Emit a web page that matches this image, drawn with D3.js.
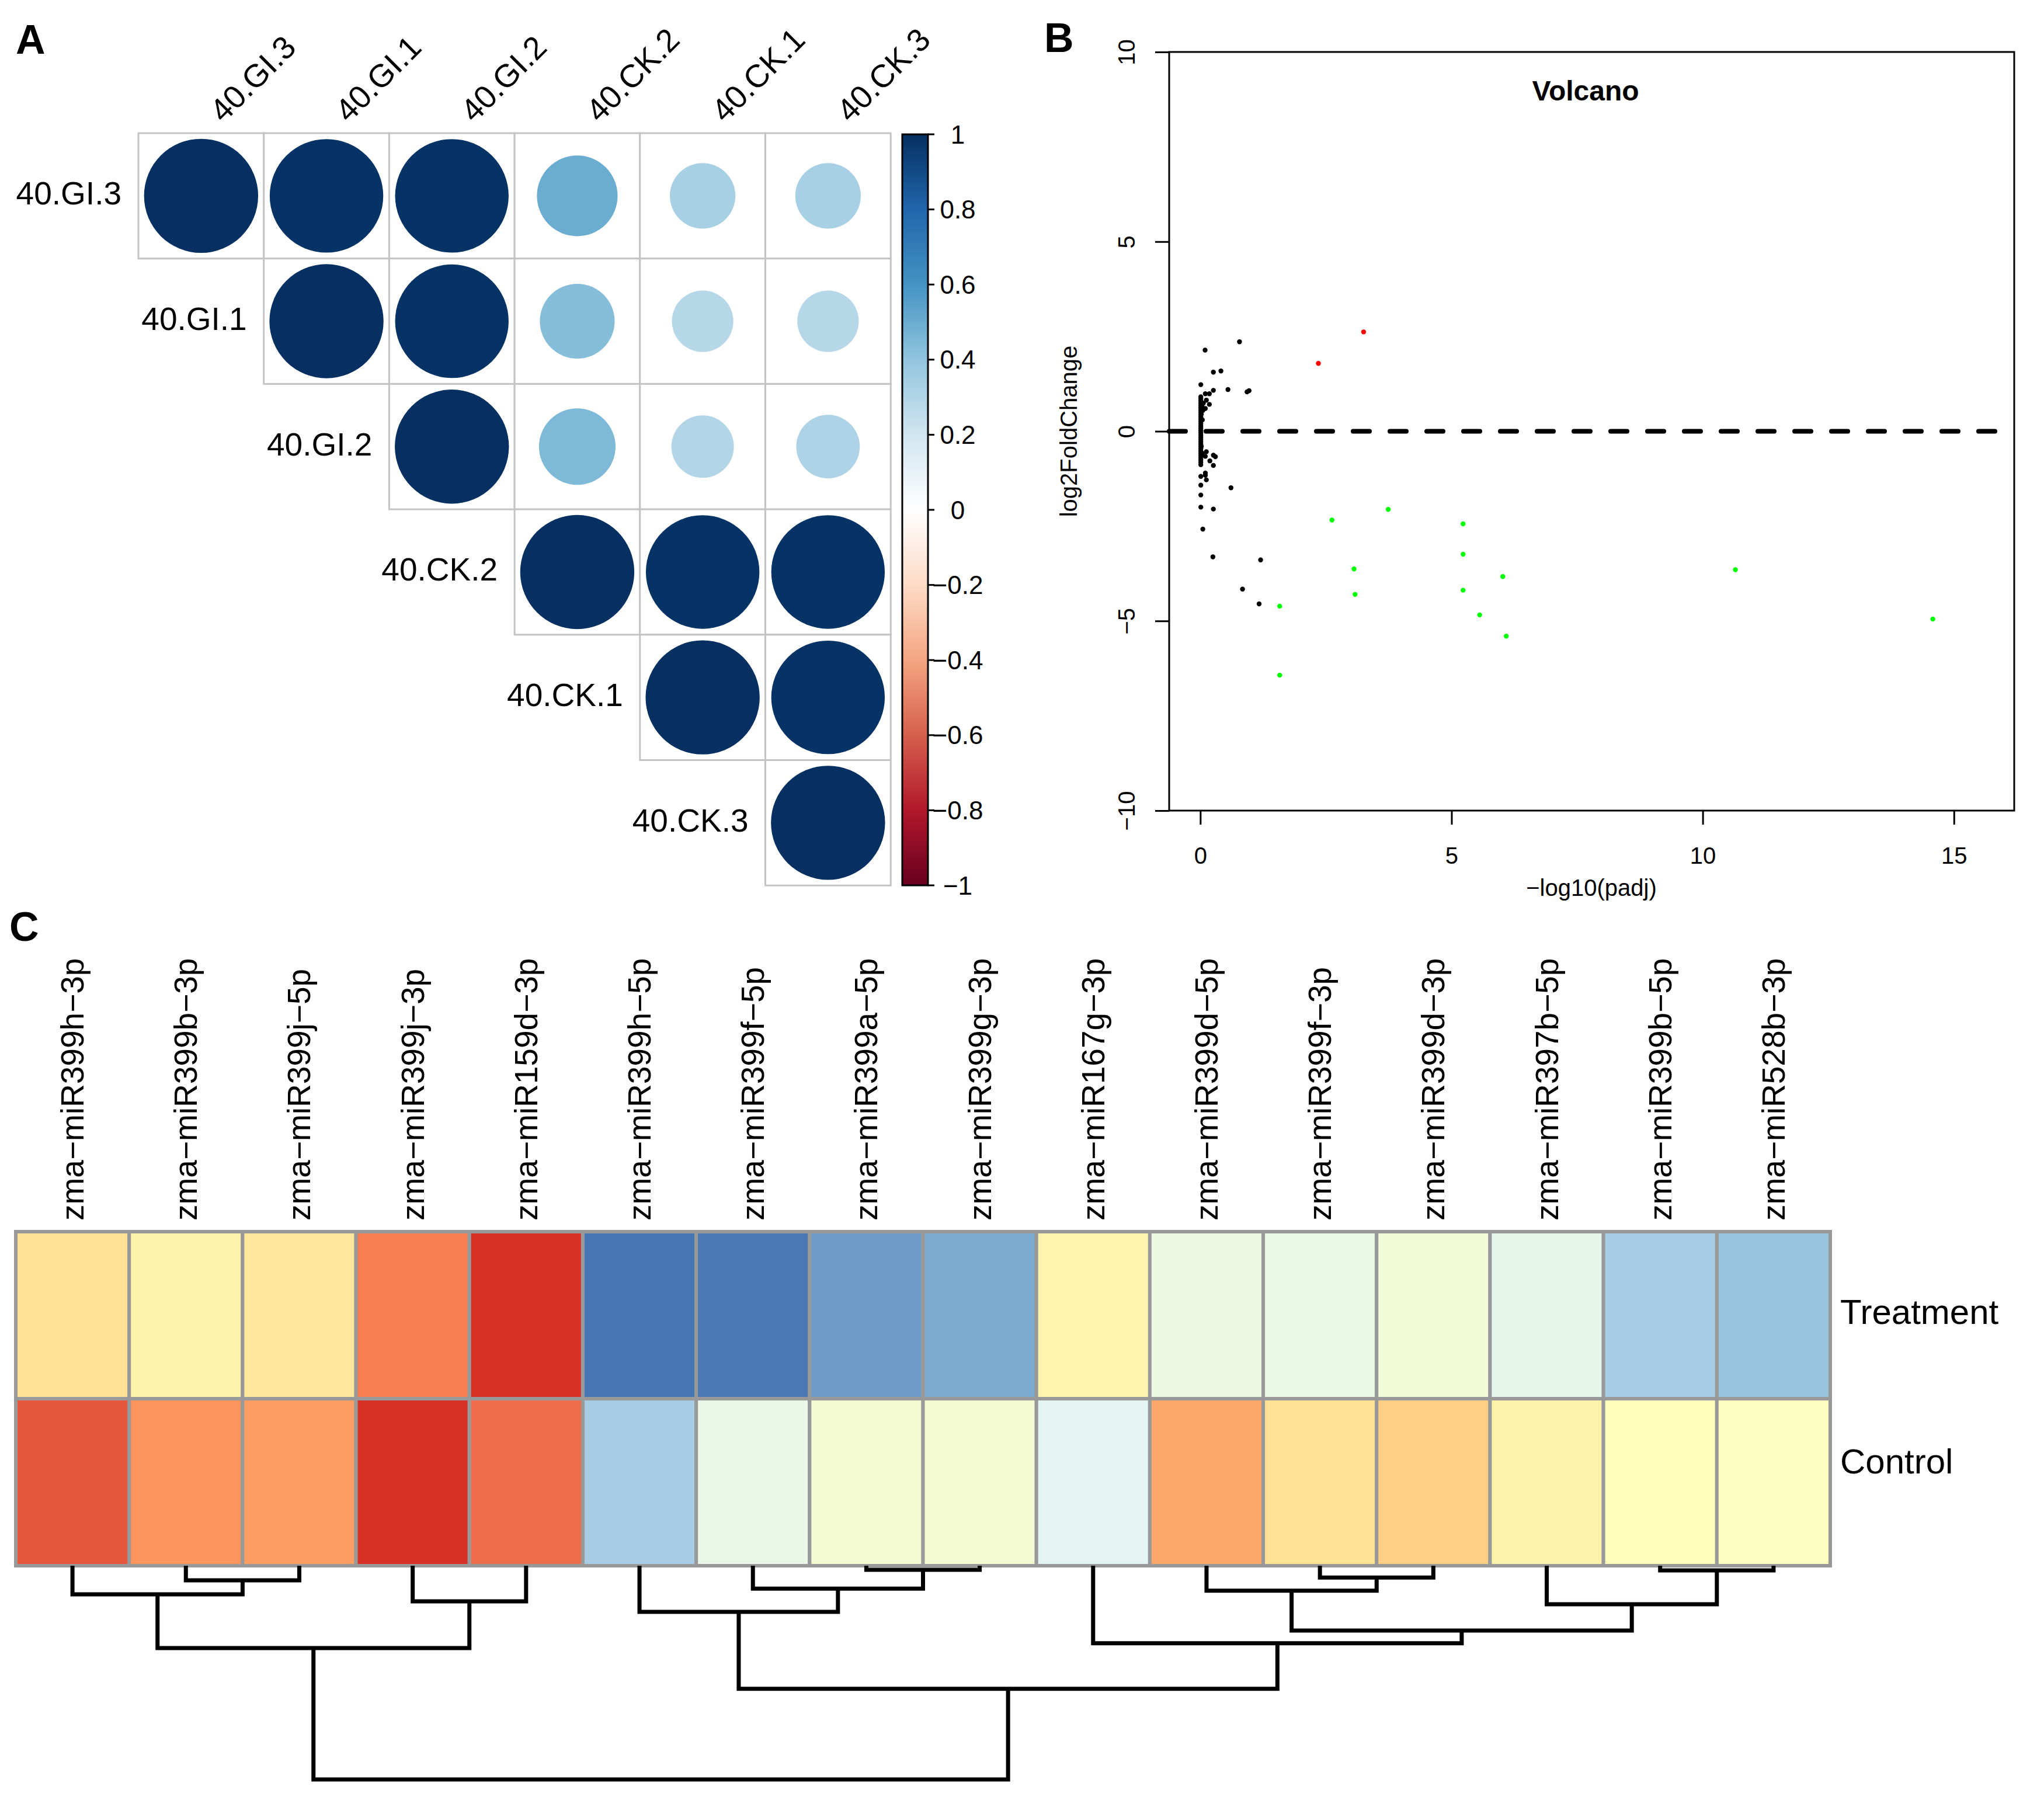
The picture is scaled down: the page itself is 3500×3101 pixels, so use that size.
<!DOCTYPE html>
<html>
<head>
<meta charset="utf-8">
<script src="https://cdn.jsdelivr.net/npm/d3@7"></script>
<style>
body { margin: 0; background: #fff; }
text { font-family: "Liberation Sans", Arial, Helvetica, sans-serif; fill: #000; }
</style>
</head>
<body>
<svg id="fig" width="3500" height="3101" viewBox="0 0 3500 3101"></svg>
<script>
// ---------- data ----------
// A: correlation matrix (only the upper triangle is drawn)
const samples = ["40.GI.3", "40.GI.1", "40.GI.2", "40.CK.2", "40.CK.1", "40.CK.3"];
const corrValues = [
  [1.00, 0.99, 0.99, 0.50, 0.33, 0.33],
  [0.99, 1.00, 0.99, 0.43, 0.29, 0.29],
  [0.99, 0.99, 1.00, 0.45, 0.30, 0.31],
  [0.50, 0.43, 0.45, 1.00, 0.99, 0.99],
  [0.33, 0.29, 0.30, 0.99, 1.00, 0.99],
  [0.33, 0.29, 0.31, 0.99, 0.99, 1.00]
];
const corrTicks = [1, 0.8, 0.6, 0.4, 0.2, 0, -0.2, -0.4, -0.6, -0.8, -1];

// B: volcano points [-log10(padj), log2FoldChange]
const upPoints = [[3.25, 2.62], [2.35, 1.79]];
const downPoints = [
  [3.74, -2.06], [2.62, -2.34], [5.23, -2.44], [5.23, -3.24], [3.06, -3.63],
  [6.02, -3.83], [5.23, -4.19], [3.08, -4.30], [1.58, -4.61], [5.56, -4.84],
  [6.09, -5.40], [1.58, -6.43], [10.65, -3.65], [14.58, -4.95]
];
const nsPoints = [
  [0.095, 2.14], [0.78, 2.36], [0.26, 1.56], [0.41, 1.59], [0.01, 1.23], [0.26, 1.08],
  [0.55, 1.10], [0.93, 1.04], [0.97, 1.07], [0.10, 0.99], [0.18, 0.99], [0.01, 0.91],
  [0.12, 0.82], [0.06, 0.74], [0.18, 0.71], [0.10, 0.60], [0.03, 0.66], [0.05, 0.55],
  [0.02, 0.45], [0.04, 0.30], [0.01, 0.86], [0.01, 0.80], [0.01, 0.74], [0.01, 0.68],
  [0.01, 0.62], [0.01, 0.56], [0.01, 0.50], [0.01, 0.44], [0.01, 0.38], [0.01, 0.32],
  [0.01, 0.26], [0.01, 0.20], [0.01, 0.14], [0.01, 0.08], [0.01, 0.02], [0.01, -0.04],
  [0.01, -0.10], [0.01, -0.16], [0.01, -0.22], [0.01, -0.28], [0.01, -0.34], [0.01, -0.40],
  [0.01, -0.46], [0.01, -0.52], [0.01, -0.58], [0.01, -0.64], [0.01, -0.70], [0.01, -0.76],
  [0.01, -0.82], [0.02, -0.40], [0.04, -0.58], [0.12, -0.54], [0.26, -0.63], [0.30, -0.67],
  [0.19, -0.78], [0.10, -0.66], [0.26, -0.90], [0.01, -0.88], [0.10, -1.10], [0.10, -1.16],
  [0.01, -1.19], [0.12, -1.28], [0.01, -1.42], [0.61, -1.49], [0.01, -1.68], [0.01, -2.00],
  [0.26, -2.05], [0.05, -2.58], [0.25, -3.31], [1.20, -3.39], [0.84, -4.16], [1.17, -4.55]
];
const xTicksB = [0, 5, 10, 15];
const yTicksB = [-10, -5, 0, 5, 10];

// C: heatmap (scaled expression) and column dendrogram
const mirnas = [
  "zma−miR399h−3p", "zma−miR399b−3p", "zma−miR399j−5p", "zma−miR399j−3p",
  "zma−miR159d−3p", "zma−miR399h−5p", "zma−miR399f−5p", "zma−miR399a−5p",
  "zma−miR399g−3p", "zma−miR167g−3p", "zma−miR399d−5p", "zma−miR399f−3p",
  "zma−miR399d−3p", "zma−miR397b−5p", "zma−miR399b−5p", "zma−miR528b−3p"
];
const groups = ["Treatment", "Control"];
const treatment = [0.32, 0.14, 0.26, 0.72, 1.00, -1.00, -0.98, -0.82, -0.76, 0.12, -0.20, -0.22, -0.14, -0.26, -0.58, -0.64];
const control = [0.86, 0.64, 0.60, 1.00, 0.78, -0.58, -0.24, -0.12, -0.12, -0.30, 0.56, 0.30, 0.40, 0.14, 0.02, -0.02];
// hclust style merges: negative = leaf (1-based), positive = earlier merge
const merges = [
  [-8, -9, 0.019], [-15, -16, 0.022], [-12, -13, 0.055], [-2, -3, 0.068],
  [-7, 1, 0.107], [-11, 3, 0.117], [-1, 4, 0.134], [-4, -5, 0.167],
  [-14, 2, 0.180], [-6, 5, 0.216], [6, 9, 0.303], [-10, 11, 0.363],
  [7, 8, 0.385], [10, 12, 0.576], [13, 14, 1.0]
];

// ---------- drawing ----------
const svg = d3.select("#fig");
svg.append("rect").attr("width", 3500).attr("height", 3101).attr("fill", "#fff");

const panelLabel = (t, x, y) => svg.append("text").attr("x", x).attr("y", y)
  .attr("font-size", 70).attr("font-weight", "bold").text(t);
panelLabel("A", 27, 92);
panelLabel("B", 1788, 89);
panelLabel("C", 16, 1611);

// ===== Panel A =====
const corrColors = ["#67001F", "#B2182B", "#D6604D", "#F4A582", "#FDDBC7", "#FFFFFF",
  "#D1E5F0", "#92C5DE", "#4393C3", "#2166AC", "#053061"];
const corrColor = d3.scaleLinear().domain(d3.range(-1, 1.0001, 0.2)).range(corrColors);
const cell = 214.7;
const xA = d3.scaleBand().domain(samples).range([237, 237 + cell * 6]);
const yA = d3.scaleBand().domain(samples).range([228, 228 + cell * 6]);
const rA = d3.scaleSqrt().domain([0, 1]).range([0, cell * 0.455]);

const gA = svg.append("g");
const cells = [];
samples.forEach((r, i) => samples.forEach((c, j) => {
  if (j >= i) cells.push({row: r, col: c, v: corrValues[i][j]});
}));
gA.selectAll(".cell").data(cells).enter().append("rect")
  .attr("x", d => xA(d.col)).attr("y", d => yA(d.row))
  .attr("width", cell).attr("height", cell)
  .attr("fill", "#fff").attr("stroke", "#C4C4C4").attr("stroke-width", 3);
gA.selectAll(".dot").data(cells).enter().append("circle")
  .attr("cx", d => xA(d.col) + cell / 2).attr("cy", d => yA(d.row) + cell / 2)
  .attr("r", d => rA(Math.abs(d.v)))
  .attr("fill", d => corrColor(d.v));

// row labels
gA.selectAll(".rl").data(samples).enter().append("text")
  .attr("x", d => xA(d) - 29).attr("y", d => yA(d) + cell / 2 - 4)
  .attr("text-anchor", "end").attr("dominant-baseline", "central")
  .attr("font-size", 55).text(d => d);
// column labels
gA.selectAll(".cl").data(samples).enter().append("text")
  .attr("transform", d => `translate(${xA(d) + cell / 2 + 38},${228 - 16}) rotate(-45)`)
  .attr("font-size", 55).text(d => d);

// colour bar
const defs = svg.append("defs");
const grad = defs.append("linearGradient").attr("id", "corrGrad")
  .attr("x1", 0).attr("y1", 1).attr("x2", 0).attr("y2", 0);
corrColors.forEach((c, i) => grad.append("stop")
  .attr("offset", i / (corrColors.length - 1)).attr("stop-color", c));
const yBar = d3.scaleLinear().domain([-1, 1]).range([1516, 230]);
svg.append("rect").attr("x", 1545).attr("y", yBar(1)).attr("width", 44)
  .attr("height", yBar(-1) - yBar(1)).attr("fill", "url(#corrGrad)")
  .attr("stroke", "#000").attr("stroke-width", 3);
svg.selectAll(".cbt").data(corrTicks).enter().append("line")
  .attr("x1", 1589).attr("x2", 1600)
  .attr("y1", d => yBar(d)).attr("y2", d => yBar(d))
  .attr("stroke", "#000").attr("stroke-width", 3);
svg.selectAll(".cbl").data(corrTicks).enter().append("text")
  .attr("x", 1640).attr("y", d => yBar(d))
  .attr("text-anchor", "middle").attr("dominant-baseline", "central")
  .attr("font-size", 44)
  .text(d => d < 0 ? "−" + Math.abs(d) : String(d));

// ===== Panel B =====
const xB = d3.scaleLinear().domain([-0.62, 16.2]).range([2002, 3449]);
const yB = d3.scaleLinear().domain([-10, 10]).range([1388, 89]);
const gB = svg.append("g");

gB.append("line").attr("x1", xB(-0.62)).attr("x2", xB(16.2))
  .attr("y1", yB(0)).attr("y2", yB(0))
  .attr("stroke", "#000").attr("stroke-width", 8)
  .attr("stroke-dasharray", "28,35").attr("stroke-linecap", "round");

const pts = (data, col) => gB.append("g").selectAll("circle").data(data).enter()
  .append("circle").attr("cx", d => xB(d[0])).attr("cy", d => yB(d[1]))
  .attr("r", 4.2).attr("fill", col);
pts(nsPoints, "#000");
pts(upPoints, "#FF0000");
pts(downPoints, "#00FF00");

gB.append("rect").attr("x", 2002).attr("y", 89).attr("width", 3449 - 2002)
  .attr("height", 1388 - 89).attr("fill", "none").attr("stroke", "#000").attr("stroke-width", 3);

const axB = gB.append("g").attr("transform", "translate(0,1388)")
  .call(d3.axisBottom(xB).tickValues(xTicksB).tickSize(24).tickSizeOuter(0));
axB.select(".domain").remove();
axB.selectAll("line").attr("stroke-width", 3);
axB.selectAll("text").attr("font-size", 40).attr("y", 77).attr("dy", "0.35em")
  .attr("font-family", "Liberation Sans, Arial, sans-serif");

const ayB = gB.append("g").attr("transform", "translate(2002,0)")
  .call(d3.axisLeft(yB).tickValues(yTicksB).tickSize(24).tickSizeOuter(0));
ayB.select(".domain").remove();
ayB.selectAll("line").attr("stroke-width", 3);
ayB.selectAll("text").attr("font-size", 40).attr("x", 0).attr("dy", "0.35em")
  .attr("text-anchor", "middle").attr("transform", "translate(-73,0) rotate(-90)")
  .attr("font-family", "Liberation Sans, Arial, sans-serif");

gB.append("text").attr("x", 2715).attr("y", 155).attr("text-anchor", "middle")
  .attr("dominant-baseline", "central").attr("font-size", 48).attr("font-weight", "bold")
  .text("Volcano");
gB.append("text").attr("x", 2725).attr("y", 1520).attr("text-anchor", "middle")
  .attr("dominant-baseline", "central").attr("font-size", 40).text("−log10(padj)");
gB.append("text").attr("transform", `translate(1830,${yB(0)}) rotate(-90)`)
  .attr("text-anchor", "middle").attr("dominant-baseline", "central")
  .attr("font-size", 40).text("log2FoldChange");

// ===== Panel C =====
const heatColors = ["#4575B4", "#91BFDB", "#E0F3F8", "#FFFFBF", "#FEE090", "#FC8D59", "#D73027"];
const heatColor = d3.scaleLinear().domain(d3.range(-1, 1.0001, 1 / 3)).range(heatColors).clamp(true);
const xC = d3.scaleBand().domain(mirnas).range([27, 3134]);
const yC = d3.scaleBand().domain(groups).range([2109, 2681]);
const gC = svg.append("g");

const heatCells = [];
mirnas.forEach((m, i) => {
  heatCells.push({m: m, g: "Treatment", v: treatment[i]});
  heatCells.push({m: m, g: "Control", v: control[i]});
});
gC.selectAll(".hc").data(heatCells).enter().append("rect")
  .attr("x", d => xC(d.m)).attr("y", d => yC(d.g))
  .attr("width", xC.bandwidth()).attr("height", yC.bandwidth())
  .attr("fill", d => heatColor(d.v)).attr("stroke", "#999999").attr("stroke-width", 6);

gC.selectAll(".hl").data(mirnas).enter().append("text")
  .attr("transform", d => `translate(${xC(d) + xC.bandwidth() / 2},2090) rotate(-90)`)
  .attr("dominant-baseline", "central").attr("font-size", 55).text(d => d);

gC.selectAll(".gl").data(groups).enter().append("text")
  .attr("x", 3151).attr("y", d => yC(d) + yC.bandwidth() / 2 - (d === "Control" ? 36 : 6))
  .attr("dominant-baseline", "central").attr("font-size", 60).text(d => d);

// dendrogram
const yD = d3.scaleLinear().domain([0, 1]).range([2681, 3047]);
const nodeX = [], nodeH = [];
const posOf = k => k < 0 ? [xC(mirnas[-k - 1]) + xC.bandwidth() / 2, 0] : [nodeX[k - 1], nodeH[k - 1]];
const dend = gC.append("g").attr("fill", "none").attr("stroke", "#000")
  .attr("stroke-width", 7).attr("stroke-linejoin", "miter");
merges.forEach(([a, b, h]) => {
  const [xa, ha] = posOf(a), [xb, hb] = posOf(b);
  dend.append("path")
    .attr("d", `M${xa},${yD(ha)}V${yD(h)}H${xb}V${yD(hb)}`);
  nodeX.push((xa + xb) / 2);
  nodeH.push(h);
});
</script>
</body>
</html>
